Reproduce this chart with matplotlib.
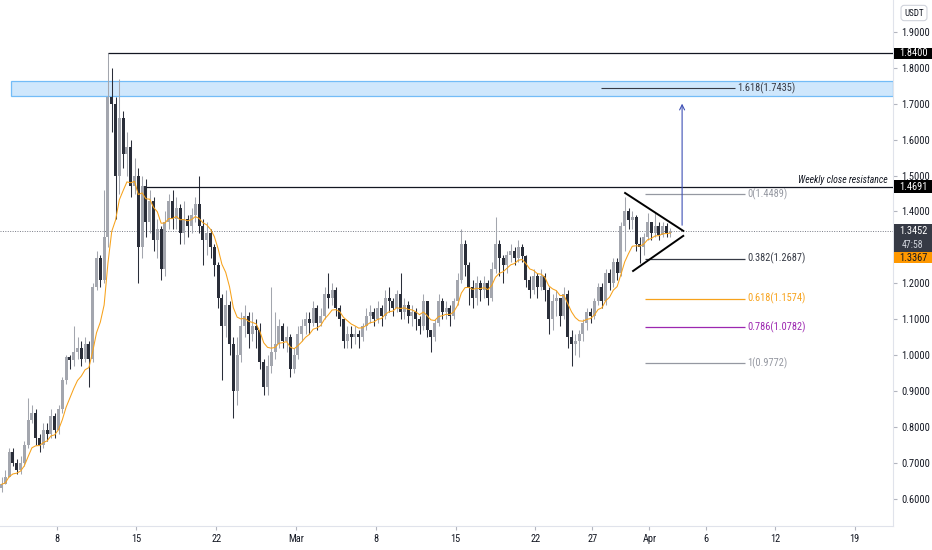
import numpy as np
import pandas as pd
import matplotlib
matplotlib.use('Agg')
import matplotlib.pyplot as plt
from matplotlib import font_manager
from matplotlib.patches import Rectangle
from matplotlib.transforms import blended_transform_factory

# pick a narrow face if one is installed
names = {f.name for f in font_manager.fontManager.ttflist}
base = next((n for n in ['Liberation Sans Narrow', 'DejaVu Sans Condensed', 'Roboto Condensed', 'Roboto']
             if n in names), 'DejaVu Sans')
plt.rcParams['font.family'] = [base, 'DejaVu Sans']
if base == 'DejaVu Sans':
    plt.rcParams['font.stretch'] = 'condensed'

# 8h candles, Feb 3 00:00 -> Apr 2, three per row (one day per row)
first_open = 0.63
closes = [
    0.64, 0.66, 0.73,   # Feb 3
    0.70, 0.68, 0.70,
    0.75, 0.82, 0.84,
    0.77, 0.75, 0.79,
    0.78, 0.83, 0.79,
    0.85, 0.93, 0.995,  # Feb 8
    0.985, 1.01, 1.02,
    0.99, 1.03, 0.99,
    1.19, 1.27, 1.21,
    1.33, 1.72, 1.70,   # Feb 12
    1.50, 1.66, 1.56,
    1.58, 1.47, 1.50,
    1.30, 1.47, 1.37,   # Feb 15
    1.43, 1.32, 1.35,
    1.24, 1.37, 1.43,
    1.38, 1.41, 1.34,
    1.38, 1.36, 1.39,
    1.42, 1.36, 1.32,
    1.34, 1.30, 1.25,
    1.16, 1.08, 1.14,   # Feb 22
    1.03, 0.90, 1.00,
    1.08, 1.11, 1.06,
    1.08, 1.07, 0.98,
    0.91, 0.97, 1.01,
    1.03, 1.08, 1.04,
    1.05, 0.96, 1.00,
    1.06, 1.08, 1.10,   # Mar 1
    1.09, 1.13, 1.09,
    1.11, 1.17, 1.16,
    1.18, 1.13, 1.10,
    1.04, 1.06, 1.05,
    1.06, 1.05, 1.08,
    1.11, 1.12, 1.10,
    1.13, 1.11, 1.16,   # Mar 8
    1.15, 1.13, 1.17,
    1.12, 1.14, 1.11,
    1.12, 1.10, 1.08,
    1.15, 1.07, 1.05,
    1.09, 1.15, 1.12,
    1.13, 1.11, 1.15,
    1.21, 1.31, 1.25,   # Mar 15
    1.19, 1.16, 1.20,
    1.18, 1.20, 1.16,
    1.24, 1.31, 1.27,
    1.25, 1.28, 1.29,
    1.27, 1.30, 1.275,
    1.21, 1.18, 1.22,
    1.19, 1.22, 1.18,   # Mar 22
    1.10, 1.15, 1.16,
    1.11, 1.17, 1.05,
    1.03, 1.04, 1.06,
    1.09, 1.12, 1.11,
    1.15, 1.19, 1.15,
    1.23, 1.20, 1.26,
    1.23, 1.36, 1.40,   # Mar 29
    1.375, 1.385, 1.31,
    1.30, 1.33, 1.37,
    1.34, 1.36, 1.335,  # Apr 1
    1.36, 1.34, 1.3452,
]
highs = [
    0.66, 0.68, 0.74,
    0.74, 0.71, 0.72,
    0.76, 0.88, 0.86,
    0.85, 0.78, 0.81,
    0.81, 0.85, 0.84,
    0.86, 0.94, 1.00,
    1.00, 1.08, 1.05,
    1.04, 1.05, 1.04,
    1.20, 1.29, 1.28,
    1.46, 1.84, 1.80,
    1.72, 1.77, 1.68,
    1.62, 1.60, 1.55,
    1.52, 1.50, 1.49,
    1.46, 1.44, 1.38,
    1.36, 1.40, 1.45,
    1.46, 1.44, 1.42,
    1.43, 1.39, 1.41,
    1.44, 1.50, 1.38,
    1.37, 1.35, 1.31,
    1.26, 1.17, 1.18,
    1.15, 1.05, 1.05,
    1.12, 1.14, 1.12,
    1.12, 1.10, 1.09,
    0.99, 1.00, 1.19,
    1.12, 1.10, 1.09,
    1.08, 1.06, 1.02,
    1.08, 1.10, 1.12,
    1.12, 1.15, 1.14,
    1.13, 1.19, 1.23,
    1.20, 1.19, 1.14,
    1.10, 1.08, 1.08,
    1.08, 1.07, 1.09,
    1.13, 1.14, 1.13,
    1.15, 1.14, 1.18,
    1.19, 1.16, 1.18,
    1.23, 1.16, 1.15,
    1.14, 1.13, 1.11,
    1.17, 1.15, 1.07,
    1.10, 1.17, 1.16,
    1.15, 1.14, 1.16,
    1.23, 1.35, 1.32,
    1.26, 1.21, 1.22,
    1.21, 1.22, 1.21,
    1.26, 1.385, 1.32,
    1.28, 1.29, 1.31,
    1.30, 1.32, 1.31,
    1.28, 1.22, 1.24,
    1.23, 1.24, 1.23,
    1.19, 1.17, 1.18,
    1.16, 1.19, 1.18,
    1.07, 1.06, 1.07,
    1.10, 1.13, 1.13,
    1.16, 1.20, 1.20,
    1.24, 1.24, 1.27,
    1.27, 1.37, 1.44,
    1.41, 1.40, 1.39,
    1.33, 1.34, 1.395,
    1.37, 1.395, 1.37,
    1.37, 1.368, 1.355,
]
lows = [
    0.62, 0.64, 0.66,
    0.69, 0.67, 0.67,
    0.69, 0.74, 0.81,
    0.75, 0.73, 0.74,
    0.76, 0.77, 0.77,
    0.78, 0.84, 0.92,
    0.96, 0.97, 0.99,
    0.97, 0.98, 0.91,
    0.98, 1.18, 1.19,
    1.20, 1.30, 1.62,
    1.38, 1.45, 1.52,
    1.50, 1.44, 1.45,
    1.20, 1.27, 1.33,
    1.34, 1.29, 1.27,
    1.21, 1.22, 1.35,
    1.35, 1.35, 1.31,
    1.31, 1.33, 1.34,
    1.37, 1.34, 1.25,
    1.28, 1.27, 1.22,
    1.13, 0.93, 1.05,
    1.00, 0.825, 0.86,
    0.98, 1.05, 1.02,
    1.04, 1.02, 0.96,
    0.89, 0.89, 0.95,
    0.99, 1.02, 1.02,
    1.01, 0.94, 0.95,
    0.99, 1.04, 1.06,
    1.06, 1.08, 1.07,
    1.08, 1.10, 1.13,
    1.14, 1.11, 1.08,
    1.02, 1.02, 1.02,
    1.03, 1.02, 1.04,
    1.07, 1.09, 1.08,
    1.09, 1.08, 1.10,
    1.12, 1.11, 1.12,
    1.10, 1.10, 1.09,
    1.08, 1.07, 1.06,
    1.07, 1.05, 1.01,
    1.04, 1.08, 1.10,
    1.10, 1.08, 1.10,
    1.14, 1.20, 1.22,
    1.14, 1.13, 1.14,
    1.15, 1.16, 1.14,
    1.15, 1.23, 1.22,
    1.20, 1.23, 1.26,
    1.25, 1.26, 1.26,
    1.19, 1.16, 1.17,
    1.16, 1.18, 1.15,
    1.06, 1.07, 1.11,
    1.08, 1.10, 1.02,
    0.97, 1.00, 0.995,
    1.04, 1.07, 1.09,
    1.10, 1.14, 1.13,
    1.14, 1.18, 1.19,
    1.21, 1.22, 1.29,
    1.35, 1.35, 1.29,
    1.257, 1.28, 1.32,
    1.32, 1.33, 1.32,
    1.33, 1.33, 1.33,
]

# date axis: days since Feb 1
tick_days = [7, 14, 21, 28, 35, 42, 49, 54, 59, 64, 70, 77]
tick_labels = ['8', '15', '22', 'Mar', '8', '15', '22', '27', 'Apr', '6', '12', '19']
price_ticks = [0.6, 0.7, 0.8, 0.9, 1.0, 1.1, 1.2, 1.4, 1.5, 1.6, 1.7, 1.8, 1.9]

fib_levels = [0, 0.382, 0.618, 0.786, 1]
fib_prices = [1.4489, 1.2687, 1.1574, 1.0782, 0.9772]
fib_colors = ['#9598a1', '#363a45', '#f7a21b', '#9c27b0', '#9598a1']

closes = np.array(closes)
highs = np.array(highs)
lows = np.array(lows)
opens = np.concatenate([[first_open], closes[:-1]])
idx = np.arange(len(closes))

fig = plt.figure(figsize=(9.32, 5.5), dpi=100)
ax = fig.add_axes([0, 1 - 526 / 550, 893 / 932, 526 / 550])
xmax = 234.6
ax.set_xlim(-0.4, xmax)
ax.set_ylim(0.524, 1.989)

# zone
ax.add_patch(Rectangle((2.5, 1.7217), xmax - 2.5, 1.7635 - 1.7217,
                       fc='#bbdefb', ec='#42a5f5', lw=0.9, alpha=0.7, zorder=1))

up = closes >= opens
cols = np.where(up, '#a3a6ae', '#2a2e39')
ax.vlines(idx, lows, highs, colors=cols, lw=0.75, zorder=2)
ax.bar(idx, np.maximum(np.abs(closes - opens), 0.004), bottom=np.minimum(opens, closes),
       width=0.78, color=cols, lw=0, zorder=3)

ema = pd.Series(closes).ewm(span=9, adjust=False).mean()
ax.plot(idx, ema, color='#f7a21b', lw=0.75, zorder=4)

# horizontal levels
ax.hlines(1.84, 28, xmax, color='#131722', lw=0.9, zorder=5)
ax.hlines(1.4691, 38, xmax, color='#131722', lw=0.9, zorder=5)
ax.text(233.3, 1.488, 'Weekly close resistance', ha='right', va='center',
        fontsize=7, style='italic', color='#131722')
ax.axhline(1.3452, color='#787b86', lw=0.7, ls=(0, (1, 1.5)), zorder=1)

# fib
for lv, p, c in zip(fib_levels, fib_prices, fib_colors):
    ax.hlines(p, 169.4, 195.7, color=c, lw=0.9, zorder=5)
    ax.text(196.2, p, f'{lv}({p:.4f})', ha='left', va='center', fontsize=7.5, color=c)
ax.hlines(1.7435, 157.8, 193.1, color='#363a45', lw=0.8, zorder=5)
ax.text(193.6, 1.7435, '1.618(1.7435)', ha='left', va='center', fontsize=7.5, color='#363a45')

# triangle
ax.plot([164.1, 179.4], [1.4515, 1.346], color='black', lw=1.4, zorder=6)
ax.plot([166.2, 179.4], [1.2343, 1.332], color='black', lw=1.4, zorder=6)

# target arrow
ax.annotate('', xy=(179.1, 1.708), xytext=(179.1, 1.354),
            arrowprops=dict(arrowstyle='->', color='#3f51b5', lw=0.8, mutation_scale=9),
            zorder=6)

# axes styling
for s in ['top', 'left']:
    ax.spines[s].set_visible(False)
for s in ['right', 'bottom']:
    ax.spines[s].set_color('#e0e3eb')
ax.yaxis.tick_right()
ax.set_yticks(price_ticks)
ax.set_yticklabels([f'{v:.4f}' for v in price_ticks])
ax.set_xticks([3 * t - 6.5 for t in tick_days])
ax.set_xticklabels(tick_labels)
ax.tick_params(axis='both', length=3, color='#b2b5be', labelsize=7.5, labelcolor='#131722', pad=3)

# price axis labels
tr = blended_transform_factory(fig.transFigure, ax.transData)
def price_box(y0, y1, fc):
    ax.add_patch(Rectangle((894 / 932, y0), 38 / 932, y1 - y0, transform=tr,
                           fc=fc, ec='none', clip_on=False, zorder=10))

price_box(1.84 - 0.016, 1.84 + 0.016, '#000000')
ax.text(913 / 932, 1.84, '1.8400', transform=tr, ha='center', va='center',
        fontsize=7.5, color='white', zorder=11)
price_box(1.4691 - 0.018, 1.4691 + 0.018, '#000000')
ax.text(913 / 932, 1.4691, '1.4691', transform=tr, ha='center', va='center',
        fontsize=7.5, color='white', zorder=11)
price_box(1.2872, 1.3652, '#363a45')
ax.text(913 / 932, 1.3457, '1.3452', transform=tr, ha='center', va='center',
        fontsize=7.5, color='white', zorder=11)
ax.text(913 / 932, 1.3067, '47:58', transform=tr, ha='center', va='center',
        fontsize=7, color='#d1d4dc', zorder=11)
price_box(1.2572, 1.2872, '#ff9800')
ax.text(913 / 932, 1.2705, '1.3367', transform=tr, ha='center', va='center',
        fontsize=7.5, color='#131722', zorder=11)

fig.text(914 / 932, 1 - 13 / 550, 'USDT', ha='center', va='center', fontsize=6.5,
         color='#131722',
         bbox=dict(boxstyle='round,pad=0.35', fc='white', ec='#d1d4dc', lw=0.8))

fig.savefig('out.png', dpi=100, facecolor='white')
